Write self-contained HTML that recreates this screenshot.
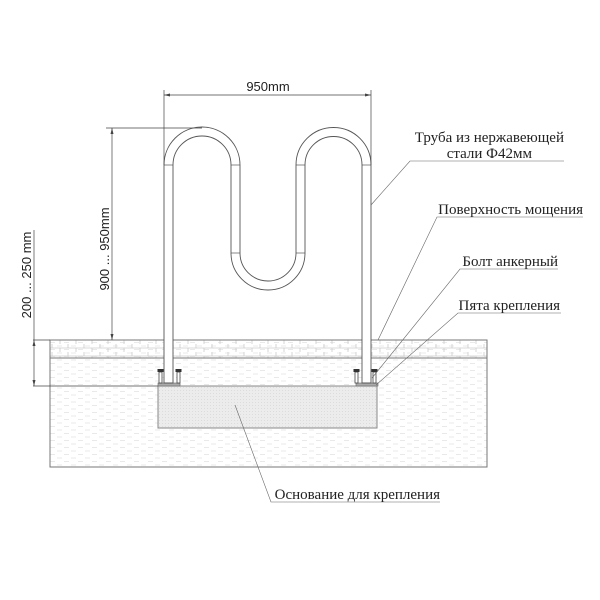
<!DOCTYPE html>
<html><head><meta charset="utf-8"><style>
html,body{margin:0;padding:0;background:#fff;}
svg{display:block;}
text{font-family:"Liberation Serif","Noto Serif CJK SC",serif;font-size:15px;fill:#222;}
.s{font-family:"Liberation Sans",sans-serif;font-size:13px;}
</style></head><body>
<svg width="600" height="600" viewBox="0 0 600 600" xmlns="http://www.w3.org/2000/svg">
<defs>
<pattern id="brick" width="16" height="8" patternUnits="userSpaceOnUse">
<path d="M0 4H16M4 0V4M12 4V8" stroke="#ccc" stroke-width="0.8" fill="none"/>
</pattern>
<pattern id="dash" width="14" height="7" patternUnits="userSpaceOnUse">
<path d="M1 3H6M8 6.5H13" stroke="#e2e2e2" stroke-width="0.8"/>
</pattern>
<pattern id="dots" width="3" height="3" patternUnits="userSpaceOnUse">
<rect width="3" height="3" fill="#ececec"/><rect width="1" height="1" fill="#dcdcdc"/>
</pattern>
</defs>
<rect x="50" y="340" width="437" height="127" fill="url(#dash)" stroke="#777" stroke-width="1"/>
<rect x="50" y="340" width="437" height="18" fill="url(#brick)" stroke="#777" stroke-width="1"/>
<rect x="158" y="386" width="219" height="42" fill="url(#dots)" stroke="#888" stroke-width="1"/>
<rect x="158" y="383" width="22" height="3" fill="#aaa" stroke="#666" stroke-width="0.6"/>
<rect x="356" y="383" width="22" height="3" fill="#aaa" stroke="#666" stroke-width="0.6"/>
<g stroke="#444" stroke-width="0.8" fill="#fff">
<rect x="159" y="372" width="3" height="11"/><rect x="177" y="372" width="3" height="11"/>
<rect x="355" y="372" width="3" height="11"/><rect x="373" y="372" width="3" height="11"/>
</g>
<g fill="#333">
<rect x="157.5" y="369" width="6" height="3"/><rect x="175.5" y="369" width="6" height="3"/>
<rect x="353.5" y="369" width="6" height="3"/><rect x="371.5" y="369" width="6" height="3"/>
</g>
<g fill="#fff" stroke="#555" stroke-width="0.9">
<path d="M164 383 V165 A38 38 0 0 1 240 165 V253 A28 28 0 0 0 296 253 V165 A37.5 37.5 0 0 1 371 165 V383 H362 V165 A28.5 28.5 0 0 0 305 165 V253 A37 37 0 0 1 231 253 V165 A29 29 0 0 0 173 165 V383 Z"/>
</g>
<g stroke="#555" stroke-width="0.7">
<line x1="164" y1="165" x2="173" y2="165"/><line x1="231" y1="165" x2="240" y2="165"/>
<line x1="296" y1="165" x2="305" y2="165"/><line x1="362" y1="165" x2="371" y2="165"/>
<line x1="231" y1="253" x2="240" y2="253"/><line x1="296" y1="253" x2="305" y2="253"/>
</g>
<g stroke="#444" stroke-width="0.7" fill="none">
<line x1="164" y1="90" x2="164" y2="165"/><line x1="371" y1="90" x2="371" y2="165"/>
<line x1="164" y1="95" x2="371" y2="95"/>
<line x1="106" y1="128" x2="202" y2="128"/>
<line x1="112" y1="128" x2="112" y2="340"/>
<line x1="33" y1="340" x2="50" y2="340"/>
<line x1="33" y1="386" x2="158" y2="386"/>
<line x1="34" y1="230" x2="34" y2="386"/>
</g>
<g fill="#444">
<path d="M164 95 l6 -1.5 v3z"/><path d="M371 95 l-6 -1.5 v3z"/>
<path d="M112 128 l-1.5 6 h3z"/><path d="M112 340 l-1.5 -6 h3z"/>
<path d="M34 340 l-1.5 6 h3z"/><path d="M34 386 l-1.5 -6 h3z"/>
</g>
<text class="s" x="268" y="91" text-anchor="middle">950mm</text>
<text class="s" transform="translate(109 249) rotate(-90)" text-anchor="middle">900 ... 950mm</text>
<text class="s" transform="translate(31 275) rotate(-90)" text-anchor="middle">200 ... 250 mm</text>
<g stroke="#666" stroke-width="0.6" fill="none">
<polyline points="564,161 410,161 371,205"/>
<polyline points="583,217 437,217 378,340"/>
<polyline points="558,269 460,269 372,378"/>
<polyline points="561,313 458,313 376,385"/>
<polyline points="440,502 271,502 235,405"/>
</g>
<text x="564" y="142" text-anchor="end">Труба из нержавеющей</text>
<text x="532" y="158" text-anchor="end">стали Ф42мм</text>
<text x="583" y="214" text-anchor="end">Поверхность мощения</text>
<text x="558" y="266" text-anchor="end">Болт анкерный</text>
<text x="560" y="310" text-anchor="end">Пята крепления</text>
<text x="440" y="499" text-anchor="end">Основание для крепления</text>
</svg>
</body></html>
